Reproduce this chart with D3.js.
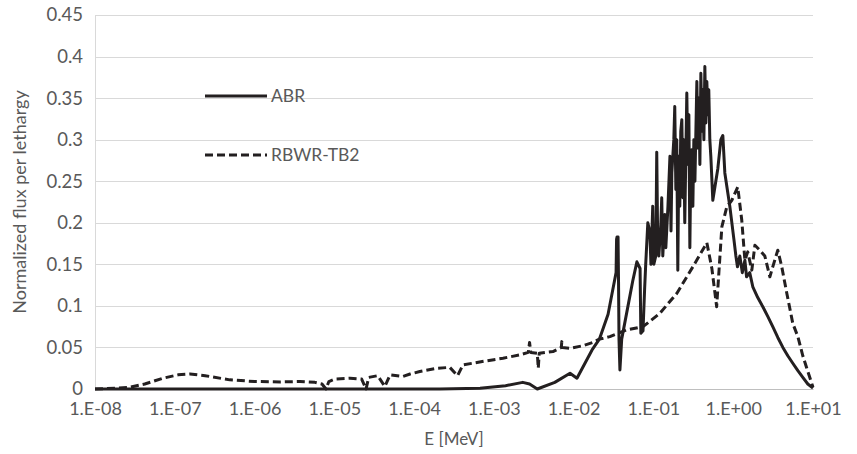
<!DOCTYPE html>
<html><head><meta charset="utf-8">
<script src="https://cdn.jsdelivr.net/npm/d3@7"></script>
<style>
body{margin:0;background:#fff;}
text{font-family:Lato,"Open Sans",sans-serif;fill:#595959;}
</style></head>
<body><svg id="c" width="857" height="454"></svg>
<script>
// Energy (MeV) and normalized flux per lethargy
const abrE = [1e-8,2.1e-4,6.7e-4,1.4e-3,2.3e-3,2.8e-3,3.5e-3,5.8e-3,9e-3,1.1e-2,1.7e-2,2.1e-2,2.7e-2,3.1e-2,3.4e-2,3.45e-2,3.5e-2,3.6e-2,3.65e-2,3.7e-2,3.8e-2,4.0e-2,4.8e-2,5.5e-2,6.2e-2,6.8e-2,6.95e-2,7.4e-2,
  0.0775,0.080,0.085,0.090,0.093,0.098,0.101,0.107,0.110,0.113,0.117,0.124,0.127,0.131,0.139,0.143,0.152,0.161,0.166,0.170,0.180,0.185,0.191,0.196,0.202,0.208,0.214,0.220,0.227,0.234,0.240,0.247,0.262,0.270,0.278,0.286,0.294,0.303,0.312,0.321,0.331,0.350,0.361,0.371,0.382,0.393,0.405,0.416,0.429,0.441,0.454,0.467,0.481,0.494,0.509,0.524,0.555,
  0.605,0.641,0.700,0.741,0.785,0.906,1.02,1.08,1.13,1.21,1.30,1.40,1.47,1.61,1.76,2.03,2.35,2.72,3.13,3.62,4.19,4.83,5.58,6.46,7.45,8.61,10];
const abrFlux = [0,0,0.001,0.004,0.008,0.006,0,0.008,0.019,0.013,0.047,0.06,0.09,0.12,0.14,0.18,0.183,0.183,0.13,0.06,0.023,0.06,0.10,0.13,0.153,0.145,0.067,0.07,
  0.12,0.15,0.20,0.19,0.15,0.22,0.15,0.16,0.285,0.18,0.16,0.20,0.23,0.16,0.21,0.17,0.22,0.28,0.19,0.26,0.30,0.34,0.24,0.30,0.143,0.28,0.22,0.31,0.324,0.23,0.30,0.20,0.356,0.27,0.33,0.17,0.27,0.288,0.22,0.30,0.25,0.37,0.29,0.35,0.27,0.38,0.31,0.36,0.30,0.388,0.32,0.37,0.33,0.36,0.30,0.28,0.227,
  0.25,0.265,0.30,0.305,0.26,0.22,0.18,0.16,0.147,0.16,0.14,0.155,0.135,0.14,0.123,0.11,0.099,0.087,0.075,0.062,0.05,0.04,0.031,0.022,0.014,0.006,0.001];
const rbwrE = [1e-8,1.8e-8,2.7e-8,4.2e-8,7.1e-8,1.1e-7,1.55e-7,2.4e-7,4.9e-7,1.0e-6,2.1e-6,3.7e-6,5.7e-6,7.0e-6,7.85e-6,8.55e-6,1.02e-5,1.57e-5,2.2e-5,2.5e-5,2.7e-5,3.5e-5,4.3e-5,5.0e-5,7.2e-5,8.9e-5,1.18e-4,1.93e-4,2.8e-4,3.5e-4,4.1e-4,8.2e-4,1.3e-3,2.1e-3,2.7e-3,2.8e-3,2.9e-3,3.5e-3,3.6e-3,3.7e-3,5.5e-3,7.0e-3,7.1e-3,7.2e-3,9e-3,1.3e-2,1.74e-2,2.1e-2,2.84e-2,4.6e-2,7.4e-2,0.12,0.196,0.312,0.467,0.54,0.62,0.72,0.83,0.96,1.14,1.28,1.40,1.52,1.71,1.87,2.15,2.49,2.88,3.13,3.62,4.06,4.70,5.58,6.46,7.45,8.36,10];
const rbwrFlux = [0,0.001,0.002,0.006,0.013,0.017,0.018,0.016,0.011,0.009,0.0085,0.009,0.008,0.006,0,0.009,0.012,0.013,0.012,0,0.014,0.016,0.003,0.017,0.015,0.018,0.021,0.025,0.026,0.016,0.029,0.034,0.037,0.041,0.044,0.056,0.044,0.043,0.025,0.043,0.045,0.05,0.057,0.05,0.049,0.052,0.056,0.06,0.063,0.071,0.075,0.091,0.115,0.147,0.176,0.145,0.099,0.195,0.219,0.227,0.243,0.203,0.155,0.165,0.143,0.173,0.167,0.16,0.135,0.147,0.167,0.147,0.115,0.079,0.063,0.04,0.025,0.002];
const xTicks = [1e-8,1e-7,1e-6,1e-5,1e-4,1e-3,1e-2,1e-1,1e0,1e1];
const yTicks = [0,0.05,0.1,0.15,0.2,0.25,0.3,0.35,0.4,0.45];
const seriesNames = ["ABR","RBWR-TB2"];

const svg = d3.select("#c");
const m = {l:95, r:813, t:15, b:389};
const x = d3.scaleLog().domain([1e-8,10]).range([m.l,m.r]);
const y = d3.scaleLinear().domain([0,0.45]).range([m.b,m.t]);

// gridlines
svg.append("g").selectAll("line").data(yTicks).join("line")
  .attr("x1",m.l).attr("x2",m.r).attr("y1",d=>Math.round(y(d))+0.5).attr("y2",d=>Math.round(y(d))+0.5)
  .attr("stroke","#d9d9d9").attr("stroke-width",1);
svg.append("line").attr("x1",m.l+0.5).attr("x2",m.l+0.5).attr("y1",m.t).attr("y2",m.b)
  .attr("stroke","#d9d9d9");

const fmtX = d => { const e = Math.round(Math.log10(d)); return "1.E" + (e<0?"-":"+") + String(Math.abs(e)).padStart(2,"0"); };

const gx = svg.append("g").attr("transform",`translate(0,${m.b})`)
  .call(d3.axisBottom(x).tickValues(xTicks).tickFormat(fmtX).tickSize(0).tickPadding(13));
gx.select(".domain").attr("stroke","#bfbfbf");
gx.selectAll("text").style("font-size","18px").attr("fill","#595959").style("font-family","Lato,sans-serif");

const gy = svg.append("g").attr("transform",`translate(${m.l},0)`)
  .call(d3.axisLeft(y).tickValues(yTicks).tickFormat(d=>String(d)).tickSize(0).tickPadding(12));
gy.select(".domain").remove();
gy.selectAll("text").style("font-size","18.5px").attr("fill","#595959").style("font-family","Lato,sans-serif");

const line = d3.line().x(d=>x(d[0])).y(d=>y(d[1]));
const abr = abrE.map((e,i)=>[e,abrFlux[i]]);
const rbwr = rbwrE.map((e,i)=>[e,rbwrFlux[i]]);

svg.append("path").datum(rbwr).attr("d",line).attr("fill","none")
  .attr("stroke","#231f20").attr("stroke-width",3).attr("stroke-dasharray","8,4").attr("stroke-linejoin","round");
svg.append("path").datum(abr).attr("d",line).attr("fill","none")
  .attr("stroke","#231f20").attr("stroke-width",3).attr("stroke-linejoin","round");

// legend
const leg = [{n:seriesNames[0],y:96,dash:null},{n:seriesNames[1],y:155,dash:"8,4"}];
leg.forEach(l=>{
  svg.append("line").attr("x1",205).attr("x2",267).attr("y1",l.y).attr("y2",l.y)
    .attr("stroke","#231f20").attr("stroke-width",3).attr("stroke-dasharray",l.dash);
  svg.append("text").attr("x",271).attr("y",l.y+6).style("font-size","17.5px").text(l.n);
});

svg.append("text").attr("x",454).attr("y",445).attr("text-anchor","middle").style("font-size","17px").text("E [MeV]");
svg.append("text").attr("transform","translate(26,202) rotate(-90)").attr("text-anchor","middle").style("font-size","18px").text("Normalized flux per lethargy");
</script></body></html>
